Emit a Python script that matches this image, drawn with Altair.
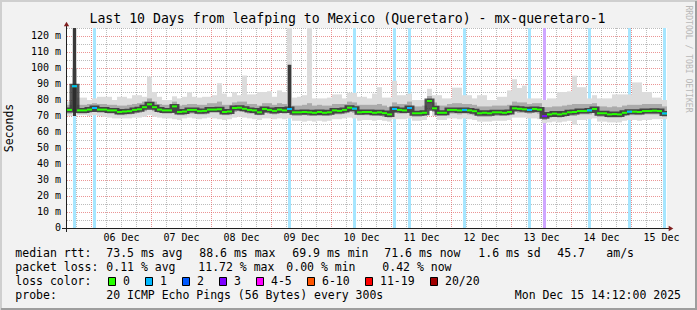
import altair as alt
import pandas as pd

# ---------------- data ----------------
BIN_HOURS = 2  # each value covers 2 hours, 10 days = 120 values

median_ms = [
    73.8, 88.6, 73.5, 73.5, 74.0, 75.0, 74.0, 74.0, 73.5, 73.5,
    72.5, 72.8, 73.0, 73.8, 74.2, 75.5, 77.3, 75.5, 74.0, 73.5,
    73.5, 76.0, 72.5, 72.8, 73.8, 73.8, 73.0, 73.2, 74.0, 74.0,
    74.2, 72.5, 72.8, 75.0, 75.2, 74.5, 73.8, 73.5, 72.3, 74.4,
    73.8, 73.2, 74.0, 73.5, 74.4, 72.3, 72.3, 72.5, 72.3, 72.0,
    72.5, 72.0, 72.3, 73.5, 73.2, 73.8, 75.2, 74.6, 72.3, 72.5,
    72.5, 72.0, 72.3, 71.8, 71.0, 74.4, 73.8, 73.5, 75.0, 71.7,
    71.7, 72.0, 79.4, 74.8, 72.0, 72.0, 73.8, 73.8, 73.5, 73.8,
    73.5, 73.0, 71.7, 72.0, 71.7, 72.3, 72.3, 72.0, 72.5, 74.8,
    74.5, 74.2, 73.8, 74.4, 74.0, 69.9, 71.0, 71.5, 71.0, 71.5,
    72.3, 72.5, 73.1, 73.1, 73.5, 74.4, 71.7, 71.7, 71.0, 71.2,
    71.0, 72.0, 72.7, 72.7, 72.5, 73.1, 73.1, 73.3, 73.1, 71.6,
]

smoke_max = [
    79, 125, 81.5, 81.5, 80, 81, 82, 82, 82, 80,
    82, 82, 81, 83, 83, 82, 94.6, 85, 82, 80,
    80, 82.3, 81, 82, 84.8, 82, 81.5, 82, 82, 83,
    90.5, 84, 82, 84.8, 83, 95.3, 83.5, 83.5, 85, 85,
    85.5, 82, 86, 85, 125, 81.5, 82, 83, 125, 81,
    81, 81, 81.5, 83.5, 83.5, 81, 84.5, 84.5, 82, 82,
    81, 84, 88, 81.5, 81.5, 92, 83, 83, 84, 80,
    80, 80, 87, 83, 83, 81, 81, 87.7, 87.7, 83,
    83, 81, 83, 83, 80, 80, 82, 82, 86, 93,
    87.5, 89, 81, 81, 81, 80, 81, 81, 85, 85,
    85.4, 95.2, 88, 88, 81, 83, 81, 81, 81, 83.5,
    83.5, 83.5, 83.5, 91, 91, 85, 85, 81.5, 81.5, 80,
]

smoke_hi = [
    77, 100, 77, 77, 77.5, 78, 77.5, 77.5, 77, 77,
    76.5, 76.5, 77, 77.5, 78, 79, 81, 79, 77.5, 77,
    77, 79, 76.5, 77, 77.5, 77.5, 77, 77, 78, 78,
    79, 77, 77, 78.5, 79, 79, 77.5, 77.5, 76.5, 78,
    78, 77, 78, 77.5, 102, 76.5, 76.5, 77, 78, 76.5,
    77, 76.5, 76.5, 77.5, 77.5, 77.5, 79, 78.5, 77, 77,
    77, 77, 77.5, 76.5, 75.5, 78.5, 77.5, 77.5, 79, 76,
    76, 76.5, 82.5, 78.5, 76.5, 76.5, 77.5, 78, 78, 77.5,
    77.5, 77, 76, 76, 76, 76.5, 76.5, 76.5, 77, 79,
    78.5, 78.5, 77.5, 78, 78, 75.5, 75.5, 76, 76, 76.5,
    77, 77.5, 77.5, 77.5, 77.5, 78, 76, 76, 75.5, 76,
    75.5, 76.5, 77, 77, 77, 77.5, 77.5, 77.5, 77.5, 76,
]

smoke_lo = [
    71.5, 72, 71.5, 71.5, 72, 72.5, 72, 72, 71.5, 71.5,
    70.5, 70.5, 71, 71.5, 72, 73, 75, 73, 72, 71.5,
    71.5, 72.5, 70.5, 70.5, 71.5, 71.5, 71, 71, 72, 72,
    72, 70.5, 70.5, 72.5, 73, 72.5, 71.5, 71.5, 70.5, 72,
    71.5, 71, 72, 71.5, 72, 70, 70, 70.5, 70, 70,
    70.5, 70, 70, 71, 71, 71.5, 72.5, 72, 70.5, 70.5,
    70.5, 70, 70, 69.5, 69, 72, 71.5, 71.5, 72.5, 69.5,
    69.5, 70, 78, 72.5, 70, 70, 71.5, 71.5, 71, 71.5,
    71, 70.5, 69.5, 69.5, 69.5, 70, 70, 70, 70.5, 72.5,
    72, 72, 71.5, 72, 71.5, 67.5, 69, 69.5, 69, 69.5,
    70, 70, 71, 71, 71, 72, 69.5, 69.5, 69, 69,
    69, 70, 70.5, 70.5, 70.5, 71, 71, 71, 71, 69.5,
]

smoke_min = [
    70, 70, 70.5, 70.5, 70, 70.5, 70, 69.5, 69, 68.5,
    68.5, 68.5, 68.5, 69, 69, 69.5, 70.5, 69.5, 69, 68.5,
    68.5, 68, 67.5, 68.5, 69, 68.5, 68, 68.5, 69, 68.5,
    68, 67.5, 68, 69, 69.5, 69, 68.5, 68, 67.5, 68.5,
    68.5, 68, 68.5, 68, 68.5, 67, 67, 66.5, 67, 66.5,
    67, 66.5, 67, 68, 68, 68.5, 69, 68.5, 67, 67.5,
    67.5, 67, 67.5, 67, 66.5, 68, 68, 68, 68.5, 67,
    67, 67.5, 78, 70, 67.5, 67.5, 68.5, 68.5, 68, 68.5,
    68, 67.5, 66.5, 66.5, 66.5, 67, 67, 67, 67.5, 69,
    69, 69, 68.5, 68.5, 68, 65.5, 66, 66.5, 66, 66.5,
    67, 64.5, 67.5, 67.5, 68, 68.5, 66.5, 66.5, 66, 66,
    66, 67, 67.5, 67.5, 67, 67.5, 67.5, 68, 68, 68,
]

loss_bin = [1, 5, 44, 57, 65, 68, 79, 92, 95, 104, 112, 119]
loss_pings = [1, 1, 1, 1, 1, 1, 1, 1, 3, 1, 1, 1]

spike_bin = [1, 44]
spike_low = [70, 74]
spike_high = [125, 102]

day_labels = ["06 Dec", "07 Dec", "08 Dec", "09 Dec", "10 Dec",
              "11 Dec", "12 Dec", "13 Dec", "14 Dec", "15 Dec"]
first_midnight_h = 9.8          # Dec 06 00:00, hours after Dec 05 14:12
y_major = list(range(10, 121, 10))
y_minor = list(range(5, 126, 10))
y_tick_values = list(range(0, 121, 10))
y_tick_labels = ["0"] + [f"{v} m" for v in range(10, 121, 10)]

loss_legend_labels = ["0", "1", "2", "3", "4-5", "6-10", "11-19", "20/20"]
loss_legend_colors = ["#26ff00", "#00b8ff", "#0059ff", "#7e00ff",
                      "#ff00ff", "#ff5500", "#ff0000", "#a10000"]
stripe_colors = {1: "#a6e6ff", 3: "#cfa6ff"}
line_colors = {1: "#00b8ff", 3: "#7e00ff"}

title_text = "Last 10 Days from leafping to Mexico (Queretaro) - mx-queretaro-1"

# ---------------- layout ----------------
W, H = 600, 200
LEFT, TOP = 67, 28
TOTAL_W, TOTAL_H = 697, 310
MONO = "DejaVu Sans Mono"
FS = 11.5

n = len(median_ms)
bins = pd.DataFrame({
    "t0": [i * BIN_HOURS for i in range(n)],
    "t1": [(i + 1) * BIN_HOURS for i in range(n)],
    "med": median_ms, "mx": smoke_max, "hi": smoke_hi,
    "lo": smoke_lo, "mn": smoke_min,
})
line_df = pd.DataFrame({
    "t": [i * BIN_HOURS for i in range(n)] + [n * BIN_HOURS],
    "med": median_ms + [median_ms[-1]],
})

xs = alt.Scale(domain=[0, n * BIN_HOURS], nice=False, zero=False)
ys = alt.Scale(domain=[0, 125], nice=False, zero=True)


def X(f):
    return alt.X(f, type="quantitative", scale=xs, axis=None)


def Y(f):
    return alt.Y(f, type="quantitative", scale=ys, axis=None)


one = pd.DataFrame({"a": [0]})
layers = []

# grid
minor_v = [first_midnight_h - 6 + 6 * k for k in range(40)]
minor_v = [v for v in minor_v if 0 < v < 240 and (round(v - first_midnight_h) % 24) != 0]
major_v = [first_midnight_h + 24 * k for k in range(10)]
layers.append(alt.Chart(pd.DataFrame({"v": y_minor})).mark_rule(
    color="#8f8f8f", opacity=0.6, strokeDash=[1, 1], strokeWidth=1, yOffset=0.5
).encode(y=Y("v"), x=alt.value(0), x2=alt.value(W)))
layers.append(alt.Chart(pd.DataFrame({"v": minor_v})).mark_rule(
    color="#8f8f8f", opacity=0.6, strokeDash=[1, 1], strokeWidth=1
).encode(x=X("v"), y=alt.value(0), y2=alt.value(H)))
layers.append(alt.Chart(pd.DataFrame({"v": y_major})).mark_rule(
    color="#de4f4f", opacity=0.6, strokeDash=[1, 1], strokeWidth=1, yOffset=0.5
).encode(y=Y("v"), x=alt.value(0), x2=alt.value(W)))
layers.append(alt.Chart(pd.DataFrame({"v": major_v})).mark_rule(
    color="#de4f4f", opacity=0.6, strokeDash=[1, 1], strokeWidth=1
).encode(x=X("v"), y=alt.value(0), y2=alt.value(H)))

# loss stripes
stripes_df = pd.DataFrame({
    "t": [(b + 0.5) * BIN_HOURS for b in loss_bin],
    "c": [stripe_colors[p] for p in loss_pings],
})
layers.append(alt.Chart(stripes_df).mark_rule(strokeWidth=3).encode(
    x=X("t"), y=alt.value(0), y2=alt.value(H), color=alt.Color("c:N", scale=None)))

# smoke
base = alt.Chart(bins)
layers.append(base.mark_rect(color="#dcdcdc", clip=True).encode(
    x=X("t0"), x2=alt.X2("t1"), y=Y("mn"), y2=alt.Y2("mx")))
layers.append(base.mark_rect(color="#ababab", clip=True).encode(
    x=X("t0"), x2=alt.X2("t1"), y=Y("lo"), y2=alt.Y2("hi")))
spike_df = pd.DataFrame({
    "t0": [b * BIN_HOURS + 0.4 for b in spike_bin],
    "t1": [(b + 1) * BIN_HOURS - 0.4 for b in spike_bin],
    "lo": spike_low, "hi": spike_high,
})
layers.append(alt.Chart(spike_df).mark_rect(color="#3a3a3a", clip=True).encode(
    x=X("t0"), x2=alt.X2("t1"), y=Y("lo"), y2=alt.Y2("hi")))
layers.append(alt.Chart(line_df).mark_line(
    interpolate="step-after", color="#2a2a2a", strokeWidth=5, opacity=0.8
).encode(x=X("t"), y=Y("med")))

# median line
layers.append(base.mark_rule(color="#26ff00", strokeWidth=2).encode(
    x=X("t0"), x2=alt.X2("t1"), y=Y("med")))
loss_df = pd.DataFrame({
    "t0": [b * BIN_HOURS for b in loss_bin],
    "t1": [(b + 1) * BIN_HOURS for b in loss_bin],
    "med": [median_ms[b] for b in loss_bin],
    "c": [line_colors[p] for p in loss_pings],
})
layers.append(alt.Chart(loss_df).mark_rule(strokeWidth=2).encode(
    x=X("t0"), x2=alt.X2("t1"), y=Y("med"), color=alt.Color("c:N", scale=None)))

# axes lines and arrows
layers.append(alt.Chart(one).mark_rule(color="#1f1f1f", strokeWidth=1).encode(
    x=alt.value(-5), x2=alt.value(W + 3), y=alt.value(200.5)))
layers.append(alt.Chart(one).mark_rule(color="#1f1f1f", strokeWidth=1).encode(
    x=alt.value(-0.5), y=alt.value(H + 4), y2=alt.value(-3)))
layers.append(alt.Chart(one).mark_point(
    shape="triangle-up", filled=True, size=28, color="#801f1f", opacity=1
).encode(x=alt.value(-0.5), y=alt.value(-4)))
layers.append(alt.Chart(one).mark_point(
    shape="triangle-right", filled=True, size=28, color="#801f1f", opacity=1
).encode(x=alt.value(W + 4), y=alt.value(200.5)))

# axis labels
layers.append(alt.Chart(pd.DataFrame({"v": y_tick_values, "lab": y_tick_labels})).mark_text(
    font=MONO, fontSize=10, align="right", baseline="middle", color="black"
).encode(y=Y("v"), x=alt.value(-6), text="lab:N"))
layers.append(alt.Chart(pd.DataFrame({
    "h": [first_midnight_h + 12 + 24 * k for k in range(len(day_labels))],
    "lab": day_labels})).mark_text(
    font=MONO, fontSize=10, align="center", baseline="middle", color="black"
).encode(x=X("h"), y=alt.value(210), text="lab:N"))


def label(s, xa, ya, size=FS, align="left", angle=0, color="black"):
    return alt.Chart(one).mark_text(
        text=s, font=MONO, fontSize=size, align=align, baseline="middle",
        angle=angle, color=color
    ).encode(x=alt.value(xa - LEFT), y=alt.value(ya - TOP))


layers.append(label(title_text, 347.5, 19, size=13.2, align="center"))
layers.append(label("Seconds", 10, 128, angle=270, align="center"))
layers.append(label("RRDTOOL / TOBI OETIKER", 688, 59, size=8.1, angle=90,
                    align="center", color="#b8b8b8"))

L1, L2, L3, L4 = 254, 268, 282, 296
legend_rows = [
    ("median rtt:", 16, L1), ("73.5 ms avg", 107, L1), ("88.6 ms max", 200, L1),
    ("69.9 ms min", 293, L1), ("71.6 ms now", 385, L1), ("1.6 ms sd", 479, L1),
    ("45.7", 558, L1), ("am/s", 607, L1),
    ("packet loss:", 16, L2), ("0.11 % avg", 107, L2), ("11.72 % max", 199, L2),
    ("0.00 % min", 287, L2), ("0.42 % now", 383, L2),
    ("loss color:", 16, L3),
    ("probe:", 16, L4), ("20 ICMP Echo Pings (56 Bytes) every 300s", 107, L4),
]
for s, xa, ya in legend_rows:
    layers.append(label(s, xa - 0.7, ya))
layers.append(label("Mon Dec 15 14:12:00 2025", 681, L4, align="right"))

sq_left = [108.5, 145.5, 182.5, 219.5, 256.5, 307.5, 365.5, 430.5]
for xl, lab, col in zip(sq_left, loss_legend_labels, loss_legend_colors):
    layers.append(alt.Chart(one).mark_rect(fill=col, stroke="black", strokeWidth=1).encode(
        x=alt.value(xl - LEFT), x2=alt.value(xl + 7 - LEFT),
        y=alt.value(277.5 - TOP), y2=alt.value(285.5 - TOP)))
    layers.append(label(lab, xl + 14.5, L3))

# frame (3D border)
layers.append(alt.Chart(one).mark_rule(color="#cfcfcf", strokeWidth=2).encode(
    x=alt.value(-LEFT), x2=alt.value(TOTAL_W - LEFT), y=alt.value(1 - TOP)))
layers.append(alt.Chart(one).mark_rule(color="#cfcfcf", strokeWidth=2).encode(
    x=alt.value(1 - LEFT), y=alt.value(-TOP), y2=alt.value(TOTAL_H - TOP)))
layers.append(alt.Chart(one).mark_rule(color="#9e9e9e", strokeWidth=2).encode(
    x=alt.value(-LEFT + 1), x2=alt.value(TOTAL_W - LEFT), y=alt.value(TOTAL_H - 1 - TOP)))
layers.append(alt.Chart(one).mark_rule(color="#9e9e9e", strokeWidth=2).encode(
    x=alt.value(TOTAL_W - 1 - LEFT), y=alt.value(-TOP + 1), y2=alt.value(TOTAL_H - TOP)))

chart = alt.layer(*layers).properties(
    width=W, height=H,
    padding={"left": LEFT, "top": TOP, "right": TOTAL_W - LEFT - W, "bottom": TOTAL_H - TOP - H},
    autosize=alt.AutoSizeParams(type="none"),
).configure(background="#f2f2f2").configure_view(fill="white", stroke=None)

chart.save("out.html", embed_options={"renderer": "svg", "actions": False})
